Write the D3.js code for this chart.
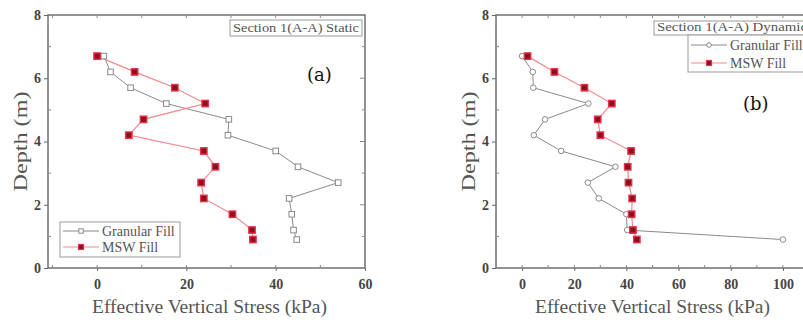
<!DOCTYPE html>
<html>
<head>
<meta charset="utf-8">
<script src="https://cdn.jsdelivr.net/npm/d3@7"></script>
<style>
  body { margin: 0; background: #fff; }
  svg text { font-family: "Times New Roman", Times, "Liberation Serif", Tinos, "DejaVu Serif", serif; }
</style>
</head>
<body>
<div id="chart"></div>
<script>
let width = 803;
let height = 322;

// depths shared by every series (m)
let depths = [6.7, 6.2, 5.7, 5.2, 4.7, 4.2, 3.7, 3.2, 2.7, 2.2, 1.7, 1.2, 0.9];

// (a) static
let staticGranular = [1.5, 3, 7.5, 15.5, 29.5, 29.3, 40, 45, 54, 43, 43.6, 44, 44.7];
let staticMSW = [0, 8.4, 17.4, 24.2, 10.4, 7.1, 23.9, 26.5, 23.3, 23.9, 30.3, 34.7, 34.9];

// (b) dynamic
let dynGranular = [0, 4.1, 4.3, 25.4, 8.8, 4.5, 15, 35.8, 25.2, 29.4, 40, 40.3, 100];
let dynMSW = [2.1, 12.4, 23.9, 34.4, 29, 30, 41.8, 40.5, 40.8, 42.2, 42, 42.5, 44];

let depthTicks = [0, 2, 4, 6, 8];
let staticTicks = [0, 20, 40, 60];
let dynTicks = [0, 20, 40, 60, 80, 100];

let seriesNames = ["Granular Fill", "MSW Fill"];

let svg = d3.select("#chart").append("svg")
    .attr("width", width)
    .attr("height", height);

let grayCol = "#8a8a8a";
let redLine = "#f28a8a";
let redEdge = "#e8304a";
let redFill = "#8b1020";
let serif = "'Times New Roman', Times, 'Liberation Serif', Tinos, 'DejaVu Serif', serif";

function drawPanel(p) {
    let x = d3.scaleLinear().domain(p.xDomain).range([p.left, p.right]);
    let y = d3.scaleLinear().domain([0, 8]).range([268, 15]);
    let g = svg.append("g");

    // frame
    g.append("rect")
        .attr("x", p.left).attr("y", y(8))
        .attr("width", p.right - p.left).attr("height", y(0) - y(8))
        .attr("fill", "none").attr("stroke", "#666").attr("stroke-width", 1.4);

    // y axis (left)
    let yAxis = d3.axisLeft(y).tickValues(depthTicks).tickSize(4).tickFormat(d3.format("d"));
    g.append("g").attr("transform", `translate(${p.left},0)`).call(yAxis)
        .attr("font-family", serif).attr("font-size", 14)
        .call(a => a.select(".domain").remove())
        .call(a => a.selectAll("line").attr("stroke", "#666"))
        .call(a => a.selectAll("text").attr("font-weight", "bold").attr("fill", "#444"));
    // minor / mirrored ticks
    g.selectAll(".ym").data(d3.range(1, 8, 2)).join("line")
        .attr("x1", p.left).attr("x2", p.left + 3)
        .attr("y1", d => y(d)).attr("y2", d => y(d)).attr("stroke", "#888");
    g.selectAll(".yr").data(d3.range(1, 8)).join("line")
        .attr("x1", p.right)
        .attr("x2", d => p.right - (d % 2 ? 3 : 5))
        .attr("y1", d => y(d)).attr("y2", d => y(d)).attr("stroke", "#888");

    // x axis (bottom)
    let xAxis = d3.axisBottom(x).tickValues(p.ticks).tickSize(3).tickFormat(d3.format("d"));
    g.append("g").attr("transform", `translate(0,${y(0)})`).call(xAxis)
        .attr("font-family", serif).attr("font-size", 14)
        .call(a => a.select(".domain").remove())
        .call(a => a.selectAll("line").attr("stroke", "#666"))
        .call(a => a.selectAll("text").attr("font-weight", "bold")
            .attr("fill", "#444").attr("dy", "1.1em"));
    let xStep = p.ticks[1] - p.ticks[0];
    let xMinor = d3.range(-xStep / 2, p.xDomain[1], xStep / 2)
        .filter(v => v > p.xDomain[0] && v < p.xDomain[1]);
    g.selectAll(".xm").data(xMinor).join("line")
        .attr("x1", d => x(d)).attr("x2", d => x(d))
        .attr("y1", y(0)).attr("y2", y(0) - 3).attr("stroke", "#888");
    g.selectAll(".xt").data(xMinor).join("line")
        .attr("x1", d => x(d)).attr("x2", d => x(d))
        .attr("y1", y(8)).attr("y2", y(8) + 3).attr("stroke", "#888");

    // axis titles
    g.append("text")
        .attr("x", p.xTitle[0]).attr("y", 313)
        .attr("font-size", 18).attr("fill", "#555")
        .attr("textLength", p.xTitle[1]).attr("lengthAdjust", "spacingAndGlyphs")
        .text("Effective Vertical Stress (kPa)");
    g.append("text")
        .attr("transform", `translate(${p.left - 21},${y(4)}) rotate(-90)`)
        .attr("x", -50)
        .attr("font-size", 19).attr("fill", "#555")
        .attr("textLength", 100).attr("lengthAdjust", "spacingAndGlyphs")
        .text("Depth (m)");

    let line = d3.line().x(d => x(d[0])).y(d => y(d[1]));
    let gran = p.granular.map((v, i) => [v, depths[i]]);
    let msw = p.msw.map((v, i) => [v, depths[i]]);

    g.append("path").datum(gran).attr("d", line)
        .attr("fill", "none").attr("stroke", grayCol).attr("stroke-width", 1);
    g.append("path").datum(msw).attr("d", line)
        .attr("fill", "none").attr("stroke", redLine).attr("stroke-width", 1.2);

    if (p.circle) {
        g.selectAll(".gm").data(gran).join("circle")
            .attr("cx", d => x(d[0])).attr("cy", d => y(d[1])).attr("r", 2.8)
            .attr("fill", "#fff").attr("stroke", grayCol);
    } else {
        g.selectAll(".gm").data(gran).join("rect")
            .attr("x", d => x(d[0]) - 2.8).attr("y", d => y(d[1]) - 2.8)
            .attr("width", 5.6).attr("height", 5.6)
            .attr("fill", "#fff").attr("stroke", grayCol);
    }
    g.selectAll(".mm").data(msw).join("rect")
        .attr("x", d => x(d[0]) - 3.2).attr("y", d => y(d[1]) - 3.2)
        .attr("width", 6.4).attr("height", 6.4)
        .attr("fill", redFill).attr("stroke", redEdge).attr("stroke-width", 1.4);

    // section label box
    let sb = p.sectionBox;
    g.append("rect").attr("x", sb[0]).attr("y", sb[1]).attr("width", sb[2]).attr("height", sb[3])
        .attr("fill", "#fff").attr("stroke", "#999").attr("stroke-width", 1);
    g.append("text").attr("x", sb[0] + 3).attr("y", sb[1] + sb[3] - 4)
        .attr("font-size", 12.5).attr("fill", "#555")
        .attr("textLength", p.sectionLen).attr("lengthAdjust", "spacingAndGlyphs")
        .text(p.section);

    // legend
    let lb = p.legendBox;
    g.append("rect").attr("x", lb[0]).attr("y", lb[1]).attr("width", lb[2]).attr("height", lb[3])
        .attr("fill", "#fff").attr("stroke", "#999").attr("stroke-width", 1);
    seriesNames.forEach((name, i) => {
        let ly = lb[1] + p.legendGap * (i + 0.5) + 1;
        let lx = lb[0] + 3;
        g.append("line").attr("x1", lx).attr("x2", lx + p.legendLen).attr("y1", ly).attr("y2", ly)
            .attr("stroke", i ? redLine : grayCol);
        let cx = lx + p.legendLen / 2;
        if (i) {
            g.append("rect").attr("x", cx - 2.5).attr("y", ly - 2.5).attr("width", 5).attr("height", 5)
                .attr("fill", redFill).attr("stroke", redEdge).attr("stroke-width", 1.2);
        } else if (p.circle) {
            g.append("circle").attr("cx", cx).attr("cy", ly).attr("r", 2.3)
                .attr("fill", "#fff").attr("stroke", grayCol);
        } else {
            g.append("rect").attr("x", cx - 2.2).attr("y", ly - 2.2).attr("width", 4.4).attr("height", 4.4)
                .attr("fill", "#fff").attr("stroke", grayCol);
        }
        g.append("text").attr("x", lx + p.legendLen + 3).attr("y", ly + 4.5)
            .attr("font-size", 14).attr("fill", "#555").text(name);
    });

    g.append("text").attr("x", p.tag[0]).attr("y", p.tag[1])
        .attr("font-size", 18).attr("fill", "#111")
        .style("font-family", "'DejaVu Serif', serif").text(p.tagText);
}

drawPanel({
    xDomain: [-11, 60], left: 48, right: 365, ticks: staticTicks,
    granular: staticGranular, msw: staticMSW, circle: false,
    xTitle: [92, 235],
    section: "Section 1(A-A) Static", sectionBox: [230, 20, 132, 16], sectionLen: 126,
    legendBox: [60, 222, 120, 35], legendGap: 16, legendLen: 36,
    tag: [307, 81], tagText: "(a)"
});

drawPanel({
    xDomain: [-10, 110], left: 496, right: 809, ticks: dynTicks,
    granular: dynGranular, msw: dynMSW, circle: true,
    xTitle: [535, 235],
    section: "Section 1(A-A) Dynamic", sectionBox: [654, 21, 160, 14], sectionLen: 150,
    legendBox: [688, 35, 130, 37], legendGap: 18, legendLen: 36,
    tag: [743, 110], tagText: "(b)"
});
</script>
</body>
</html>
